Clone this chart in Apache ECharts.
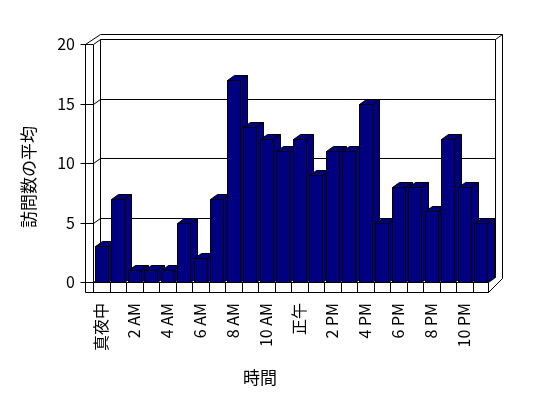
<!DOCTYPE html>
<html>
<head>
<meta charset="utf-8">
<script src="https://cdn.jsdelivr.net/npm/echarts@6/dist/echarts.min.js"></script>
<style>
html,body{margin:0;padding:0;background:#fff;}
#chart{width:548px;height:398px;}
</style>
</head>
<body>
<div id="chart"></div>
<script>
// ---- data ----
const hours = ['真夜中','1 AM','2 AM','3 AM','4 AM','5 AM','6 AM','7 AM','8 AM','9 AM','10 AM','11 AM',
               '正午','1 PM','2 PM','3 PM','4 PM','5 PM','6 PM','7 PM','8 PM','9 PM','10 PM','11 PM'];
const visits = [3,7,1,1,1,5,2,7,17,13,12,11,12,9,11,11,15,5,8,8,6,12,8,5];
const yMin = 0, yMax = 20, yStep = 5;
const xTitle = '時間';
const yTitle = '訪問数の平均';

// ---- style constants ----
const DX = 7, DY = -5;          // 3D depth offset
const WALL = 8, FLOOR = 10;     // wall / floor thickness
const BAR = '#000080';
const FONT = '"Noto Sans CJK JP", "Noto Sans", sans-serif';

const c = v => Math.round(v) + 0.5;
function ln(x1, y1, x2, y2) {
  return {type: 'line', shape: {x1: c(x1), y1: c(y1), x2: c(x2), y2: c(y2)},
          style: {stroke: '#000', lineWidth: 1, fill: null}};
}
function poly(pts, fill) {
  return {type: 'polygon', shape: {points: pts.map(p => [c(p[0]), c(p[1])])},
          style: {fill: fill, stroke: '#000', lineWidth: 1}};
}

function frameItem(params, api) {
  const cs = params.coordSys;
  const x0 = cs.x, x1 = cs.x + cs.width, yt = cs.y, yb = cs.y + cs.height;
  const band = api.size([1, 0])[0];
  const ch = [];
  // silhouette
  ch.push(poly([[x0 - WALL, yb + FLOOR], [x0 - WALL, yt], [x0 + DX, yt + 2 * DY],
                [x1 + 2 * DX - 1, yt + 2 * DY], [x1 + 2 * DX - 1, yb - 4], [x1 - 1, yb + FLOOR]], '#fff'));
  // back wall inner face
  ch.push(poly([[x0 + DX, yt + DY], [x1 + DX - 1, yt + DY], [x1 + DX - 1, yb + DY], [x0 + DX, yb + DY]], '#fff'));
  ch.push(ln(x1 + DX - 1, yt + DY, x1 + 2 * DX - 1, yt + 2 * DY));
  // gridlines on back wall + ticks on left wall
  for (let v = yMin; v <= yMax; v += yStep) {
    const y = api.coord([0, v])[1];
    if (v > yMin && v < yMax) ch.push(ln(x0 + DX, y + DY, x1 + DX - 1, y + DY));
    ch.push(ln(x0 - WALL - 5, y, x0, y));
    ch.push(ln(x0, y, x0 + DX, y + DY));
  }
  // left wall front inner edge
  ch.push(ln(x0, yt, x0, yb + FLOOR));
  // floor
  ch.push(ln(x0, yb, x1 - 1, yb));
  ch.push(ln(x1 - 1, yb, x1 - 1, yb + FLOOR));
  ch.push(ln(x1 - 1, yb, x1 + DX - 1, yb + DY));
  for (let k = 1; k < hours.length; k++) {
    const xk = x0 + k * band;
    ch.push(ln(xk, yb, xk, yb + FLOOR));
  }
  return {type: 'group', children: ch};
}

function barItem(params, api) {
  const idx = api.value(0), val = api.value(1);
  const top = api.coord([idx, val]);
  const base = api.coord([idx, 0]);
  const bw = api.size([1, 0])[0] * 0.79;
  const xl = Math.round(top[0] - bw / 2), xr = Math.round(top[0] + bw / 2);
  const yt = Math.round(top[1]), yb = Math.round(base[1]);
  return {type: 'group', children: [
    poly([[xl, yt], [xr, yt], [xr, yb], [xl, yb]], BAR),
    poly([[xl, yt], [xl + DX, yt + DY], [xr + DX, yt + DY], [xr, yt]], BAR),
    poly([[xr, yt], [xr + DX, yt + DY], [xr + DX, yb + DY], [xr, yb]], BAR)
  ]};
}

const chart = echarts.init(document.getElementById('chart'), null, {renderer: 'canvas'});
chart.setOption({
  animation: false,
  backgroundColor: '#fff',
  textStyle: {fontFamily: FONT},
  grid: {left: 93, right: 59, top: 44, bottom: 116, containLabel: false},
  xAxis: {
    type: 'category', data: hours,
    axisLine: {show: false}, axisTick: {show: false}, splitLine: {show: false},
    axisLabel: {interval: 1, rotate: 90, margin: 21, fontSize: 16, color: '#000', fontFamily: FONT}
  },
  yAxis: {
    type: 'value', min: yMin, max: yMax, interval: yStep,
    axisLine: {show: false}, axisTick: {show: false}, splitLine: {show: false},
    axisLabel: {margin: 18, fontSize: 16, color: '#000', fontFamily: FONT}
  },
  graphic: [
    {type: 'text', x: 260, y: 378, silent: true,
     style: {text: xTitle, align: 'center', verticalAlign: 'middle', fill: '#000', font: '17px ' + FONT}},
    {type: 'text', x: 29, y: 177, rotation: Math.PI / 2, silent: true,
     style: {text: yTitle, align: 'center', verticalAlign: 'middle', fill: '#000', font: '17px ' + FONT}}
  ],
  series: [
    {type: 'custom', coordinateSystem: 'cartesian2d', clip: false, silent: true, z: 1,
     data: [[0, 0]], encode: {x: 0, y: 1}, renderItem: frameItem},
    {type: 'custom', coordinateSystem: 'cartesian2d', clip: false, silent: true, z: 2,
     data: visits.map((v, i) => [i, v]), encode: {x: 0, y: 1}, renderItem: barItem}
  ]
});
</script>
</body>
</html>
